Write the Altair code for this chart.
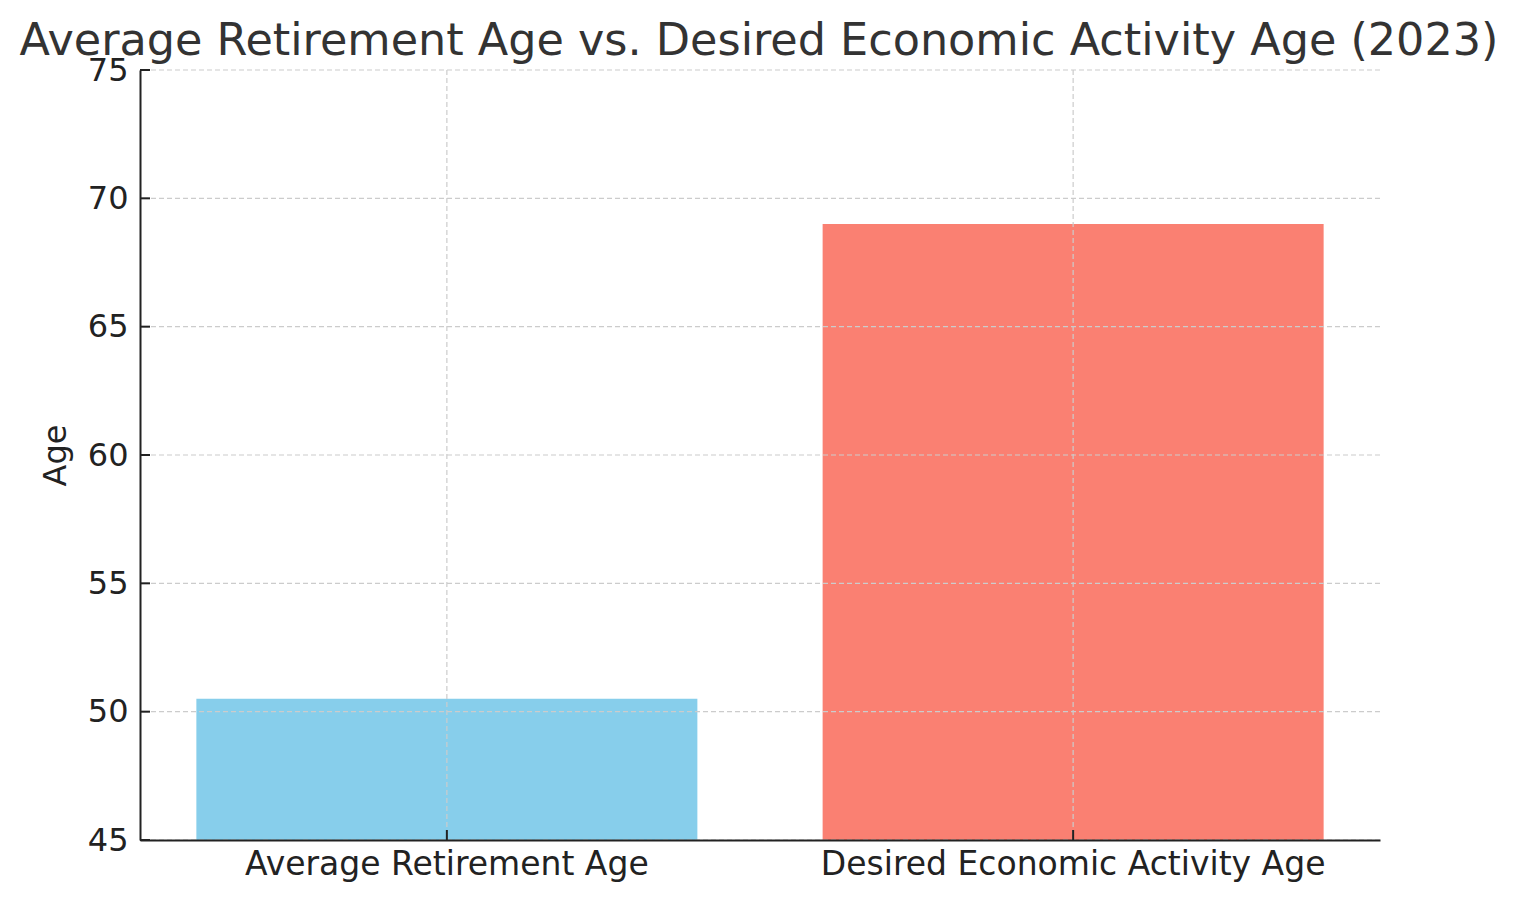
import altair as alt
import pandas as pd

categories = ["Average Retirement Age", "Desired Economic Activity Age"]
values = [50.5, 69.0]
colors = ["#87CEEB", "#FA8072"]
y_ticks = [45, 50, 55, 60, 65, 70, 75]
title_text = ["Average Retirement Age vs. Desired Economic Activity Age (2023)"]

df = pd.DataFrame({"category": categories, "age": values, "color": colors})
ticks_df = pd.DataFrame({"t": y_ticks})
title_df = pd.DataFrame({"title": title_text})

W, H = 1240, 770
FONT = "DejaVu Sans"
GRID = dict(color="#cccccc", strokeDash=[5, 3], strokeWidth=1.2)

xscale = alt.Scale(domain=categories, paddingInner=0.2, paddingOuter=0.09)
yscale = alt.Scale(domain=[45, 75], nice=False, zero=False)

bars = alt.Chart(df).mark_bar(clip=True).encode(
    x=alt.X("category:N", scale=xscale, sort=categories,
            axis=alt.Axis(title=None, labelAngle=0, ticks=False, labelPadding=8,
                          labelLimit=0,
                          labelFontSize=33, labelColor="#222222", labelFont=FONT,
                          domainColor="#222222", domainWidth=2,
                          grid=False, zindex=1)),
    y=alt.Y("age:Q", scale=yscale,
            axis=alt.Axis(title="Age", values=y_ticks, ticks=False, labelPadding=12,
                          labelFontSize=32, labelColor="#222222", labelFont=FONT,
                          titleFontSize=32, titleColor="#222222", titleFont=FONT,
                          titleFontWeight="normal", titlePadding=15,
                          domainColor="#222222", domainWidth=2,
                          grid=False, zindex=1)),
    y2=alt.datum(45),
    color=alt.Color("color:N", scale=None, legend=None),
)

ygrid = alt.Chart(ticks_df).mark_rule(**GRID).encode(
    y=alt.Y("t:Q", scale=yscale),
)

xgrid = alt.Chart(df).mark_rule(**GRID).encode(
    x=alt.X("category:N", scale=xscale, sort=categories, bandPosition=0.5),
)

ytick_marks = alt.Chart(ticks_df).mark_rule(color="#222222", strokeWidth=2).encode(
    y=alt.Y("t:Q", scale=yscale),
    x=alt.value(0),
    x2=alt.value(10),
)

xtick_marks = alt.Chart(df).mark_rule(color="#222222", strokeWidth=2).encode(
    x=alt.X("category:N", scale=xscale, sort=categories, bandPosition=0.5),
    y=alt.value(H),
    y2=alt.value(H - 10),
)

title = alt.Chart(title_df).mark_text(
    fontSize=44.5, font=FONT, color="#333333", align="center", baseline="alphabetic"
).encode(
    text="title:N",
    x=alt.value(W / 2 - 1),
    y=alt.value(-15),
)

chart = alt.layer(bars, ygrid, xgrid, ytick_marks, xtick_marks, title).properties(
    width=W,
    height=H,
    autosize=alt.AutoSizeParams(type="none"),
    padding={"left": 132, "top": 62, "right": 125, "bottom": 50},
).configure(background="white", view=alt.ViewConfig(strokeWidth=0, stroke="transparent"))

chart.save("out.html", embed_options={"renderer": "svg", "actions": False})
